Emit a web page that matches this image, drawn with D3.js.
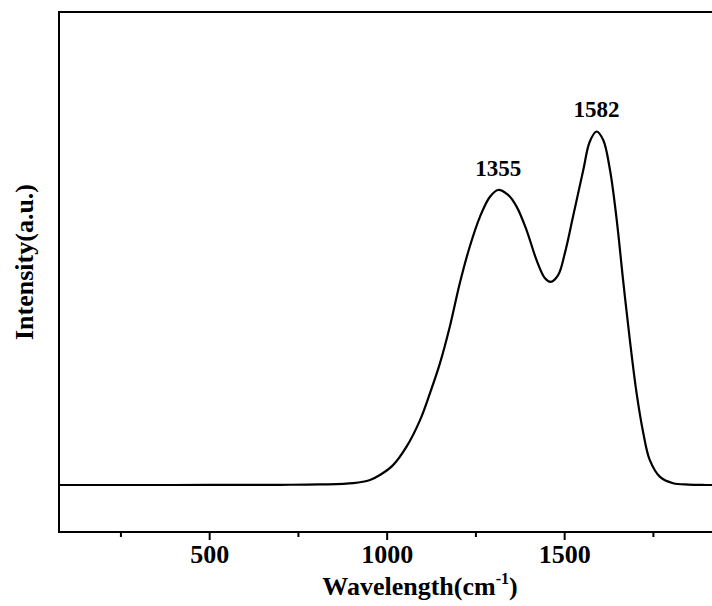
<!DOCTYPE html>
<html>
<head>
<meta charset="utf-8">
<script src="https://cdn.jsdelivr.net/npm/d3@7"></script>
<style>
  body { margin: 0; background: #fff; }
  svg { display: block; }
  text { font-family: "Liberation Serif", "Times New Roman", serif; font-weight: bold; fill: #000; }
</style>
</head>
<body>
<div id="chart"></div>
<script>
const w = 712;
const h = 606;

// spectrum (wavenumber, intensity in a.u.)
const wavenumber = [77, 400, 700, 811, 906, 953, 981, 1018, 1056, 1094, 1122, 1150, 1178, 1206, 1234, 1263, 1291,
  1314, 1342, 1366, 1394, 1422, 1446, 1462, 1483, 1502, 1525, 1554, 1572, 1591, 1610, 1629, 1648, 1666,
  1685, 1704, 1723, 1741, 1770, 1807, 1850, 1900, 2000];
const intensity = [0, 0, 0.05, 0.15, 0.5, 1.4, 2.8, 5.6, 10.8, 18.3, 25.9, 34.3, 44.7, 56.9, 67.2, 75.7, 81.3,
  83.2, 81.8, 78.5, 71.9, 63.5, 58.3, 57.3, 59.2, 65.4, 75.7, 88.9, 96.8, 99.7, 97.3, 88.9, 74.8, 57.8,
  40.9, 25.9, 14.6, 7.1, 2.3, 0.5, 0.1, 0, 0];

const majorTicks = [500, 1000, 1500];
const minorTicks = [250, 750, 1250, 1750];

// peak annotations
const peakLabels = ["1355", "1582"];
const peakPos = [1314, 1591];
const peakVal = [83.2, 99.7];

const mLeft = 59, mTop = 12, mBottom = 532;

const svg = d3.select("#chart").append("svg")
  .attr("width", w)
  .attr("height", h);

const x = d3.scaleLinear().domain([77, 2000]).range([mLeft, mLeft + (2000 - 77) * 0.355]);
const y = d3.scaleLinear().domain([-13.26, 133.4]).range([mBottom, mTop]);

//frame (right side runs off the picture)
svg.append("rect")
  .attr("x", mLeft).attr("y", mTop)
  .attr("width", x(2000) - mLeft).attr("height", mBottom - mTop)
  .attr("fill", "none").attr("stroke", "#000").attr("stroke-width", 2);

//minor ticks
const minorAxis = d3.axisBottom(x).tickValues(minorTicks).tickSize(5).tickFormat("");
svg.append("g").attr("transform", `translate(0,${mBottom})`).call(minorAxis)
  .call(g => g.select(".domain").remove())
  .call(g => g.selectAll("line").attr("stroke", "#000").attr("stroke-width", 2));

//major ticks
const xAxis = d3.axisBottom(x).tickValues(majorTicks).tickSize(8).tickPadding(5).tickFormat(d3.format("d"));
svg.append("g").attr("transform", `translate(0,${mBottom})`).call(xAxis)
  .call(g => g.select(".domain").remove())
  .call(g => g.selectAll("line").attr("stroke", "#000").attr("stroke-width", 2))
  .call(g => g.selectAll("text")
    .attr("font-family", "Liberation Serif, serif")
    .attr("font-weight", "bold")
    .attr("font-size", 26)
    .attr("fill", "#000"));

//curve
const line = d3.line()
  .x((d, i) => x(wavenumber[i]))
  .y(d => y(d))
  .curve(d3.curveCatmullRom.alpha(0.5));

svg.append("path")
  .datum(intensity)
  .attr("d", line)
  .attr("fill", "none")
  .attr("stroke", "#000")
  .attr("stroke-width", 2.2);

//peak labels
svg.selectAll(".peak")
  .data(peakLabels)
  .enter().append("text")
  .attr("class", "peak")
  .attr("x", (d, i) => x(peakPos[i]))
  .attr("y", (d, i) => y(peakVal[i]) - 14)
  .attr("text-anchor", "middle")
  .attr("font-size", 23)
  .text(d => d);

//x title
const xt = svg.append("text")
  .attr("x", 420)
  .attr("y", 595)
  .attr("text-anchor", "middle")
  .attr("font-size", 26);
xt.append("tspan").text("Wavelength(cm");
xt.append("tspan").attr("font-size", 16).attr("dy", -11).text("-1");
xt.append("tspan").attr("dy", 11).text(")");

//y title
svg.append("text")
  .attr("transform", "translate(33,262) rotate(-90)")
  .attr("text-anchor", "middle")
  .attr("font-size", 26)
  .text("Intensity(a.u.)");
</script>
</body>
</html>
